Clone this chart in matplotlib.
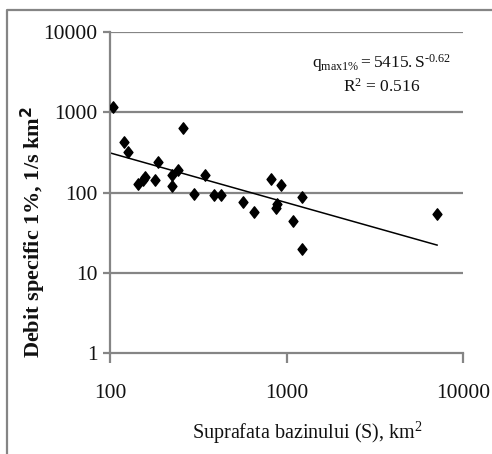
import numpy as np
import matplotlib
matplotlib.use('Agg')
import matplotlib.pyplot as plt
from matplotlib.path import Path
from matplotlib.lines import Line2D

plt.rcParams['font.family'] = ['Liberation Serif', 'DejaVu Serif']
plt.rcParams['mathtext.fontset'] = 'custom'
plt.rcParams['mathtext.rm'] = 'Liberation Serif'
plt.rcParams['mathtext.it'] = 'Liberation Serif:italic'

# suprafata bazinului (km2) si debit specific 1% (l/s km2)
suprafata = [103.5, 120, 126, 260, 186, 144, 153, 158.6, 180, 225, 225, 243,
             298, 345, 390, 428, 569, 653, 815, 929, 867, 885, 1091, 1217,
             1227, 7130]
debit = [1163, 426, 320, 636, 242, 129, 142, 156, 145, 167, 119, 189,
         97, 167, 92, 94, 76, 57, 146, 123, 65, 71, 44, 88, 19.6, 54]

# regresie putere q = 5415 * S^-0.62
coef_a = 5415
coef_b = -0.62
s_min, s_max = 100, 7130

gri = '#858585'

fig = plt.figure(figsize=(4.92, 4.54), dpi=100)
W, H = 492, 454
ax = fig.add_axes([110 / W, 1 - 353 / H, (463 - 110) / W, (353 - 32) / H])

romb = Path([(0, 1), (0.78, 0), (0, -1), (-0.78, 0), (0, 1)],
            [Path.MOVETO, Path.LINETO, Path.LINETO, Path.LINETO, Path.CLOSEPOLY])
ax.plot(suprafata, debit, linestyle='none', marker=romb, markersize=8.2,
        color='black', zorder=3)

s_fit = np.array([s_min, s_max], dtype=float)
ax.plot(s_fit, coef_a * s_fit ** coef_b, color='black', linewidth=1.1, zorder=2)

ax.set_xscale('log')
ax.set_yscale('log')
ax.set_xlim(100, 10000)
ax.set_ylim(1, 10000)
ax.set_xticks([100, 1000, 10000])
ax.set_yticks([1, 10, 100, 1000, 10000])
ax.set_xticklabels(['100', '1000', '10000'])
ax.set_yticklabels(['1', '10', '100', '1000', '10000'])
ax.minorticks_off()

for yv in [10, 100, 1000, 10000]:
    ax.axhline(yv, color=gri, linewidth=1.6, zorder=1)

for sp in ['top', 'right']:
    ax.spines[sp].set_visible(False)
for sp in ['left', 'bottom']:
    ax.spines[sp].set_color(gri)
    ax.spines[sp].set_linewidth(1.6)

ax.tick_params(axis='both', colors=gri, width=1.6, length=5, labelsize=15.5,
               labelcolor='#111111')
ax.tick_params(axis='x', length=7, pad=15)
ax.tick_params(axis='y', pad=4)

fig.text(307 / W, 1 - 433 / H, 'Suprafata bazinului (S), km$^2$', ha='center',
         va='center', fontsize=14.5, color='#111111')
fig.text(33 / W, 1 - 232 / H, 'Debit specific 1%, 1/s km$^\\mathbf{2}$',
         rotation=90, ha='center', va='center', fontsize=16, fontweight='bold',
         color='#111111')

ax.text(382 / W, 1 - 63 / H, '$\\mathregular{q_{max1\\%}=5415{.}S^{\u2010 0.62}}$',
        transform=fig.transFigure, ha='center', va='center', fontsize=12.5,
        color='#111111')
ax.text(382 / W, 1 - 87 / H, r'R$^2$ = 0.516', transform=fig.transFigure,
        ha='center', va='center', fontsize=12.5, color='#111111')

# chenarul figurii
fig.add_artist(Line2D([7 / W, 7 / W, 1], [0, 1 - 10 / H, 1 - 10 / H],
                      transform=fig.transFigure, color=gri, linewidth=1.6))

fig.savefig('out.png', dpi=100)
